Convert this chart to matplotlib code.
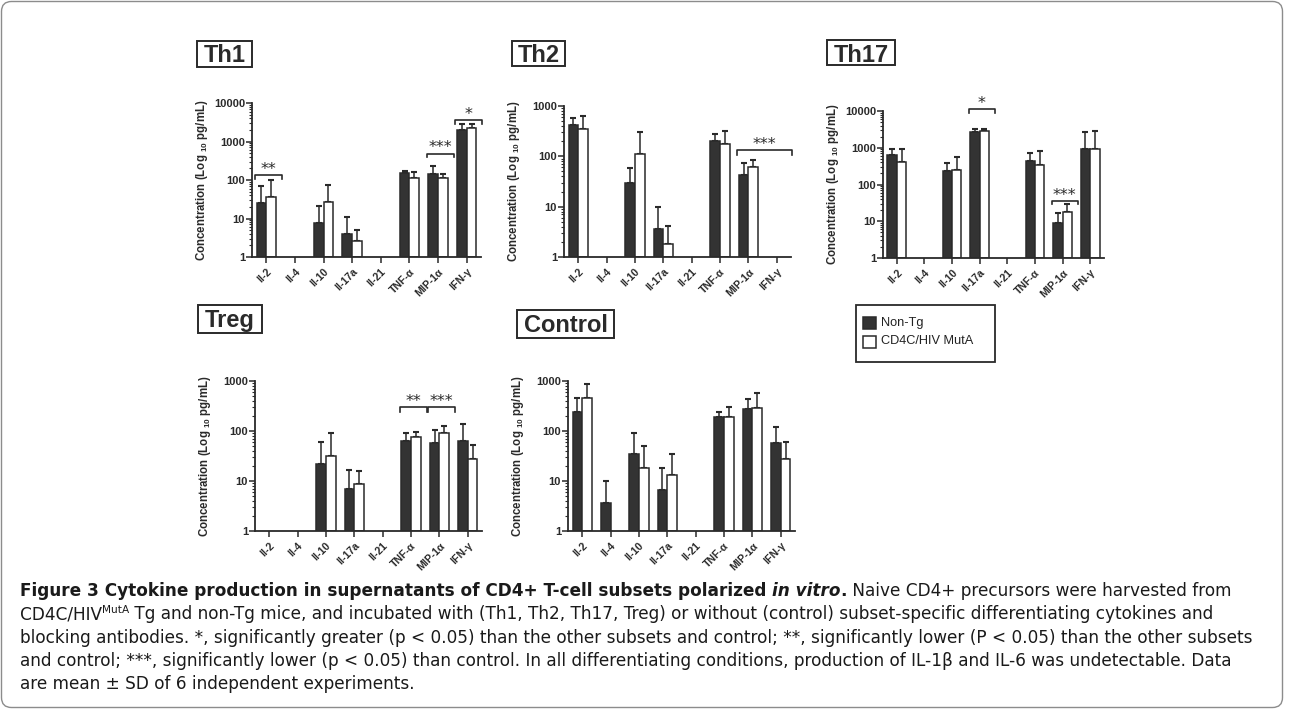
import numpy as np
import matplotlib
matplotlib.use('Agg')
import matplotlib.pyplot as plt
from matplotlib import font_manager
from matplotlib.patches import Rectangle, FancyBboxPatch
from matplotlib.ticker import FixedLocator, FixedFormatter, LogLocator, NullFormatter

nan = np.nan
W, H = 1290, 720

# --- data (mean and SD, pg/mL) ---
cytokines = ['Il-2', 'Il-4', 'Il-10', 'Il-17a', 'Il-21', 'TNF-α', 'MIP-1α', 'IFN-γ']
groups = ['Non-Tg', 'CD4C/HIV MutA']

th1_nontg = [25, nan, 7.7, 4.0, nan, 155, 140, 2000]
th1_nontg_sd = [45, nan, 13, 7, nan, 17, 90, 800]
th1_mut = [36, nan, 27, 2.6, nan, 110, 110, 2200]
th1_mut_sd = [64, nan, 47, 2.4, nan, 55, 36, 700]
th1_sig = [('**', 'Il-2', 'Il-2', 132), ('***', 'MIP-1α', 'MIP-1α', 485), ('*', 'IFN-γ', 'IFN-γ', 3600)]

th2_nontg = [413, nan, 30, 3.6, nan, 202, 42, nan]
th2_nontg_sd = [172, nan, 29, 6.1, nan, 77, 32, nan]
th2_mut = [356, nan, 110, 1.8, nan, 172, 60, nan]
th2_mut_sd = [276, nan, 190, 2.3, nan, 144, 26, nan]
th2_sig = [('***', 'MIP-1α', 'IFN-γ', 132)]

th17_nontg = [630, nan, 232, 2700, nan, 441, 9, 950]
th17_nontg_sd = [270, nan, 158, 550, nan, 284, 8, 1750]
th17_mut = [400, nan, 247, 2930, nan, 345, 18, 950]
th17_mut_sd = [500, nan, 318, 320, nan, 465, 12, 1950]
th17_sig = [('*', 'Il-17a', 'Il-17a', 11000), ('***', 'MIP-1α', 'MIP-1α', 36)]

treg_nontg = [nan, nan, 22, 6.8, nan, 62, 58, 63]
treg_nontg_sd = [nan, nan, 38, 9.7, nan, 31, 49, 72]
treg_mut = [nan, nan, 32, 8.9, nan, 76, 93, 28]
treg_mut_sd = [nan, nan, 58, 6.9, nan, 20, 33, 24]
treg_sig = [('**', 'TNF-α', 'TNF-α', 300), ('***', 'MIP-1α', 'MIP-1α', 300)]

ctrl_nontg = [244, 3.7, 34, 6.6, nan, 193, 275, 58]
ctrl_nontg_sd = [220, 6.5, 59, 11.3, nan, 47, 162, 60]
ctrl_mut = [464, nan, 18.5, 13.2, nan, 187, 288, 28]
ctrl_mut_sd = [406, nan, 31.5, 20.8, nan, 119, 282, 32]
ctrl_sig = []

# --- fonts ---
names = {f.name for f in font_manager.fontManager.ttflist}
CAP_FONT = 'Liberation Sans Narrow' if 'Liberation Sans Narrow' in names else 'DejaVu Sans'
CAP_SIZE = 15.2 if CAP_FONT == 'Liberation Sans Narrow' else 12.2

plt.rcParams['font.family'] = ['Liberation Sans', 'DejaVu Sans']
plt.rcParams['mathtext.default'] = 'regular'

INK = '#2a2a2a'
DARK = '#333333'

fig = plt.figure(figsize=(W / 100, H / 100), dpi=100)
fig.patch.set_facecolor('white')

# overlay in pixel coordinates for boxes, legend and caption
ov = fig.add_axes([0, 0, 1, 1], zorder=-1)
ov.set_xlim(0, W)
ov.set_ylim(H, 0)
ov.axis('off')


def draw_panel(box, ytop, black, black_sd, white, white_sd, sig):
    left, top, right, bottom = box
    ax = fig.add_axes([left / W, 1 - bottom / H, (right - left) / W, (bottom - top) / H])
    x = np.arange(len(cytokines))
    w = 0.34
    for vals, sd, dx, fc in [(black, black_sd, -w / 2, DARK), (white, white_sd, w / 2, 'white')]:
        vals = np.array(vals, float)
        sd = np.array(sd, float)
        ok = ~np.isnan(vals)
        ax.bar(x[ok] + dx, vals[ok] - 1, bottom=1, width=w, color=fc,
               edgecolor=INK, linewidth=1.1, zorder=2)
        ax.errorbar(x[ok] + dx, vals[ok], yerr=[np.zeros(ok.sum()), sd[ok]], fmt='none',
                    ecolor=INK, elinewidth=1.1, capsize=2.4, capthick=1.5, zorder=1)
    ax.set_yscale('log')
    ax.set_ylim(1, ytop)
    ax.set_xlim(-0.5, len(cytokines) - 0.5)
    decades = [10 ** k for k in range(int(round(np.log10(ytop))) + 1)]
    ax.yaxis.set_major_locator(FixedLocator(decades))
    ax.yaxis.set_major_formatter(FixedFormatter([str(d) for d in decades]))
    ax.yaxis.set_minor_locator(LogLocator(base=10, subs=np.arange(2, 10)))
    ax.yaxis.set_minor_formatter(NullFormatter())
    ax.set_xticks(x)
    ax.set_xticklabels(cytokines, rotation=45, ha='right', rotation_mode='anchor',
                       fontsize=7.6, fontweight='bold', color=INK)
    for lab in ax.get_yticklabels():
        lab.set_fontweight('bold')
    ax.tick_params(axis='y', which='major', length=4, width=1.1, labelsize=8,
                   labelcolor=INK, color=INK, pad=1)
    ax.tick_params(axis='y', which='minor', length=2, width=0.8, color=INK)
    ax.tick_params(axis='x', length=4, width=1.1, color=INK, pad=3)
    for s in ['top', 'right']:
        ax.spines[s].set_visible(False)
    for s in ['left', 'bottom']:
        ax.spines[s].set_linewidth(1.3)
        ax.spines[s].set_color(INK)
    ax.set_facecolor('none')
    ax.set_ylabel('Concentration (Log $_{10}$ pg/mL)', fontsize=8.3, fontweight='bold', color=INK)
    ax.yaxis.set_label_coords(-42 / (right - left), 0.5)
    for stars, c0, c1, level in sig:
        x0 = cytokines.index(c0) - 0.4
        x1 = cytokines.index(c1) + 0.55
        lo = level * 10 ** -0.09
        ax.plot([x0, x0, x1, x1], [lo, level, level, lo], color=INK, lw=1.2,
                clip_on=False, zorder=3)
        ax.text((x0 + x1) / 2, level * 10 ** 0.03, stars, ha='center', va='baseline',
                fontsize=11.5, color=INK, family='DejaVu Sans', clip_on=False)
    return ax


draw_panel((252, 103, 481, 257), 10000, th1_nontg, th1_nontg_sd, th1_mut, th1_mut_sd, th1_sig)
draw_panel((564, 106, 791, 257), 1000, th2_nontg, th2_nontg_sd, th2_mut, th2_mut_sd, th2_sig)
draw_panel((883, 111, 1104, 258), 10000, th17_nontg, th17_nontg_sd, th17_mut, th17_mut_sd, th17_sig)
draw_panel((255, 381, 482, 531), 1000, treg_nontg, treg_nontg_sd, treg_mut, treg_mut_sd, treg_sig)
draw_panel((568, 381, 795, 531), 1000, ctrl_nontg, ctrl_nontg_sd, ctrl_mut, ctrl_mut_sd, ctrl_sig)

# --- panel titles in boxes ---
for name, (l, t, r, b) in [('Th1', (197, 41, 252, 67)), ('Th2', (512, 41, 565, 66)),
                           ('Th17', (827, 40, 895, 65)), ('Treg', (198, 305, 262, 333)),
                           ('Control', (517, 310, 614, 338))]:
    ov.add_patch(Rectangle((l, t), r - l, b - t, fill=False, ec=INK, lw=1.4))
    ov.text((l + r) / 2, t + 21.5, name, ha='center', va='baseline', fontsize=17,
            fontweight='bold', color=INK)

# --- legend ---
ov.add_patch(Rectangle((856, 305), 139, 57, fill=False, ec=INK, lw=1.3))
for i, (g, fc) in enumerate(zip(groups, [DARK, 'white'])):
    yc = 323 + i * 18.5
    ov.add_patch(Rectangle((863, yc - 6), 13, 12, fc=fc, ec=INK, lw=1.1))
    ov.text(881, yc, g, ha='left', va='center', fontsize=9.2, color='#222222')

# --- outer frame ---
ov.add_patch(FancyBboxPatch((1.5, 1.5), 1281, 706, boxstyle='round,pad=0,rounding_size=10',
                            fc='none', ec='#8c8c8c', lw=1))


# --- caption ---
def chain(pieces, x, y):
    prev = None
    first = None
    for txt, weight, style, size, raise_ in pieces:
        kw = dict(fontsize=size, fontweight=weight, fontstyle=style, family=CAP_FONT,
                  color='#1a1a1a')
        if prev is None:
            t = ov.text(x, y, txt, ha='left', va='bottom', **kw)
            first = t
        elif raise_:
            t = ov.annotate(txt, xy=(1, 1), xycoords=prev, va='top', ha='left', **kw)
        else:
            t = ov.annotate(txt, xy=(1, 0), xycoords=(prev, first), ha='left', va='bottom', **kw)
        prev = t


S = CAP_SIZE
lines = [
    [('Figure 3 Cytokine production in supernatants of CD4+ T-cell subsets polarized ', 'bold', 'normal', S, False),
     ('in vitro', 'bold', 'italic', S, False),
     ('.', 'bold', 'normal', S, False),
     (' Naive CD4+ precursors were harvested from', 'normal', 'normal', S, False)],
    [('CD4C/HIV', 'normal', 'normal', S, False),
     ('MutA', 'normal', 'normal', S * 0.62, True),
     (' Tg and non-Tg mice, and incubated with (Th1, Th2, Th17, Treg) or without (control) '
      'subset-specific differentiating cytokines and', 'normal', 'normal', S, False)],
    [('blocking antibodies. *, significantly greater (p < 0.05) than the other subsets and control; '
      '**, significantly lower (P < 0.05) than the other subsets', 'normal', 'normal', S, False)],
    [('and control; ***, significantly lower (p < 0.05) than control. In all differentiating conditions, '
      'production of IL-1β and IL-6 was undetectable. Data', 'normal', 'normal', S, False)],
    [('are mean ± SD of 6 independent experiments.', 'normal', 'normal', S, False)],
]
for i, pieces in enumerate(lines):
    chain(pieces, 20, 600 + i * 23.3)

fig.savefig('out.png', dpi=100, facecolor='white')
